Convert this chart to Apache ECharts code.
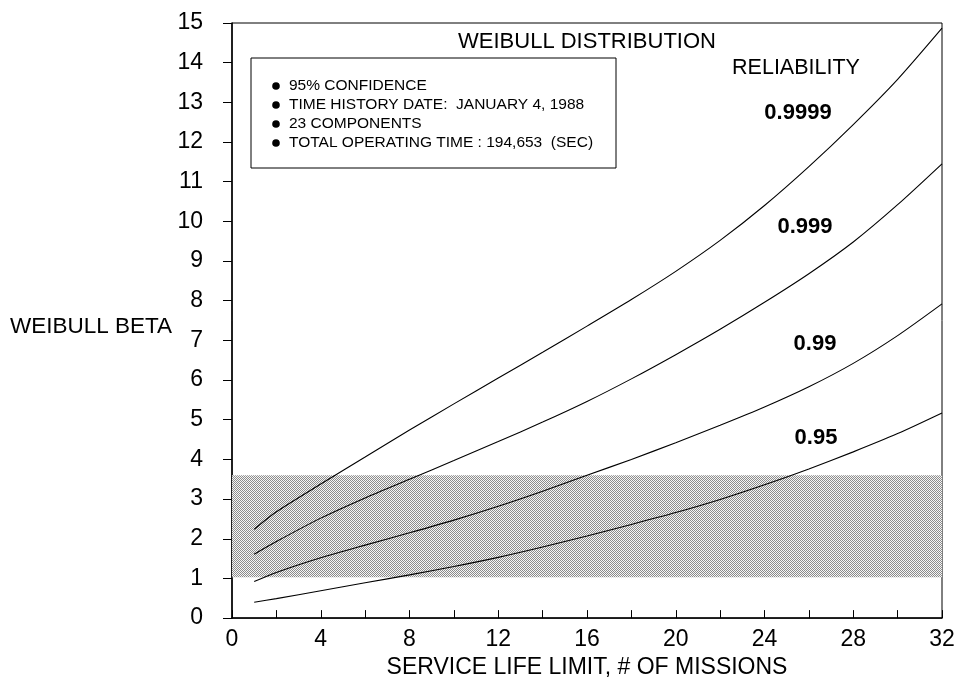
<!DOCTYPE html>
<html>
<head>
<meta charset="utf-8">
<script src="https://cdn.jsdelivr.net/npm/echarts@6/dist/echarts.min.js"></script>
<style>html,body{margin:0;padding:0;background:#fff}#root{width:962px;height:684px}</style>
</head>
<body>
<div id="root"></div>
<script>
// missions (x) and Weibull beta for each reliability level
var missions = [1, 2, 4, 6, 8, 10, 12, 14, 16, 18, 20, 22, 24, 26, 28, 30, 32];
var beta9999 = [2.24, 2.68, 3.38, 4.06, 4.74, 5.40, 6.05, 6.70, 7.36, 8.03, 8.74, 9.52, 10.40, 11.38, 12.44, 13.58, 14.87];
var beta999  = [1.61, 1.93, 2.52, 3.03, 3.50, 3.97, 4.45, 4.94, 5.46, 6.03, 6.64, 7.28, 7.96, 8.68, 9.48, 10.42, 11.45];
var beta99   = [0.92, 1.15, 1.52, 1.84, 2.15, 2.47, 2.82, 3.20, 3.60, 4.00, 4.42, 4.86, 5.32, 5.83, 6.42, 7.12, 7.92];
var beta95   = [0.40, 0.49, 0.69, 0.89, 1.09, 1.30, 1.53, 1.79, 2.07, 2.36, 2.66, 2.99, 3.36, 3.76, 4.19, 4.65, 5.17];
var reliabilities = ['0.9999', '0.999', '0.99', '0.95'];
var bandRange = [1.03, 3.6];
var noteLines = ['95% CONFIDENCE', 'TIME HISTORY DATE:  JANUARY 4, 1988', '23 COMPONENTS', 'TOTAL OPERATING TIME : 194,653  (SEC)'];

var FONT = '"Liberation Sans", Arial, sans-serif';

// stipple pattern for the shaded band
var pat = document.createElement('canvas');
pat.width = 2; pat.height = 2;
var pc = pat.getContext('2d');
pc.fillStyle = '#f6f6f6'; pc.fillRect(0, 0, 2, 2);
pc.fillStyle = '#8c8c8c'; pc.fillRect(0, 0, 1, 1); pc.fillRect(1, 1, 1, 1);

function pairs(ys){ return missions.map(function(x, i){ return [x, ys[i]]; }); }

function curve(name, ys, extra){
  var s = {
    name: name, type: 'line', data: pairs(ys), smooth: 0.25,
    symbol: 'none', lineStyle: { color: '#000', width: 1.1 }, z: 3
  };
  return Object.assign(s, extra || {});
}

var noteGraphics = [{
  type: 'rect', shape: { x: 251, y: 58, width: 365, height: 110 },
  style: { fill: '#fff', stroke: '#000', lineWidth: 1 }, z: 10
}];
noteLines.forEach(function(t, i){
  var y = 86 + i * 19;
  noteGraphics.push({ type: 'circle', shape: { cx: 276, cy: y, r: 3.8 }, style: { fill: '#000' }, z: 11 });
  noteGraphics.push({ type: 'text', x: 289, y: y, style: { text: t, fill: '#000', font: '15.5px ' + FONT, textVerticalAlign: 'middle' }, z: 11 });
});

var labelPos = [[798, 113], [805, 227], [815, 344], [816, 438]];
var curveLabels = reliabilities.map(function(r, i){
  return { type: 'text', x: labelPos[i][0], y: labelPos[i][1],
    style: { text: r, fill: '#000', font: 'bold 22px ' + FONT, textAlign: 'center', textVerticalAlign: 'middle' }, z: 11 };
});

var chart = echarts.init(document.getElementById('root'));
chart.setOption({
  animation: false,
  backgroundColor: '#fff',
  grid: { left: 232, right: 20, top: 23, bottom: 61, show: true, borderColor: '#000', borderWidth: 1, backgroundColor: 'transparent' },
  xAxis: {
    type: 'value', min: 0, max: 32, interval: 4,
    name: 'SERVICE LIFE LIMIT, # OF MISSIONS', nameLocation: 'middle', nameGap: 25,
    nameTextStyle: { fontFamily: FONT, fontSize: 23, color: '#000' },
    axisLine: { lineStyle: { color: '#000', width: 1.5 } },
    axisTick: { inside: true, length: 8, lineStyle: { color: '#000' } },
    minorTick: { show: true, splitNumber: 2, length: 8, lineStyle: { color: '#000' } },
    axisLabel: { fontFamily: FONT, fontSize: 23, color: '#000', margin: 10 },
    splitLine: { show: false }
  },
  yAxis: {
    type: 'value', min: 0, max: 15, interval: 1,
    axisLine: { lineStyle: { color: '#000', width: 1.5 } },
    axisTick: { inside: false, length: 9, lineStyle: { color: '#000' } },
    axisLabel: { fontFamily: FONT, fontSize: 23, color: '#000', margin: 29 },
    splitLine: { show: false }
  },
  series: [
    curve(reliabilities[0], beta9999, {
      markArea: {
        silent: true,
        itemStyle: { color: { image: pat, repeat: 'repeat' } },
        data: [[{ xAxis: 0, yAxis: bandRange[0] }, { xAxis: 32, yAxis: bandRange[1] }]]
      }
    }),
    curve(reliabilities[1], beta999),
    curve(reliabilities[2], beta99),
    curve(reliabilities[3], beta95)
  ],
  graphic: [
    { type: 'text', x: 10, y: 327, style: { text: 'WEIBULL BETA', fill: '#000', font: '22.5px ' + FONT, textAlign: 'left', textVerticalAlign: 'middle' }, z: 11 },
    { type: 'text', x: 587, y: 42, style: { text: 'WEIBULL DISTRIBUTION', fill: '#000', font: '22px ' + FONT, textAlign: 'center', textVerticalAlign: 'middle' }, z: 11 },
    { type: 'text', x: 796, y: 68, style: { text: 'RELIABILITY', fill: '#000', font: '21.5px ' + FONT, textAlign: 'center', textVerticalAlign: 'middle' }, z: 11 }
  ].concat(noteGraphics, curveLabels)
});
</script>
</body>
</html>
